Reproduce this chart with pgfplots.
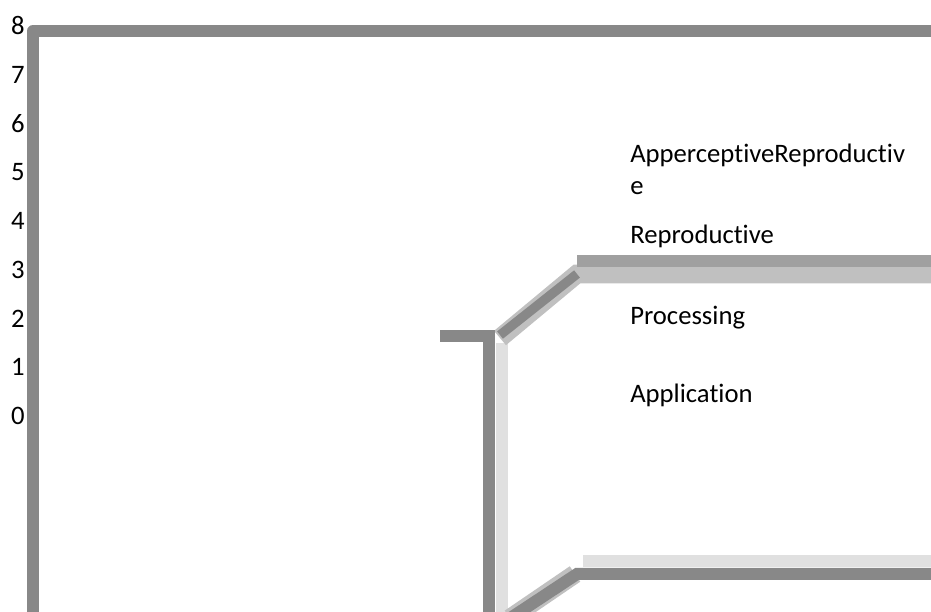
\documentclass[border=0pt]{standalone}
\usepackage{pgfplots}
\pgfplotsset{compat=1.18}
\usepackage{fontspec}
\setmainfont{Carlito}[Ligatures=NoCommon]
\definecolor{gDark}{HTML}{888888}
\definecolor{gMid}{HTML}{A0A0A0}
\definecolor{gLight}{HTML}{C0C0C0}
\definecolor{gPale}{HTML}{E0E0E0}
\newcommand{\lbl}{\fontsize{20}{24}\selectfont}
\begin{document}
\begin{tikzpicture}
\begin{axis}[
  scale only axis,
  width=698.25pt, height=459pt,
  xmin=0, xmax=931,
  ymin=-4.0205, ymax=8.533,
  axis line style={draw=none},
  major tick length=0pt,
  tick style={draw=none},
  xtick=\empty,
  ytick={0,1,2,3,4,5,6,7,8},
  /pgf/number format/assume math mode=true,
  yticklabel style={font=\lbl, anchor=east, inner sep=0pt, xshift=18.75pt},
  clip=true
]
  % outer frame
  \addplot[gDark, line width=9pt, line join=round] coordinates {(33,-4.5) (33,7.897) (950,7.897)};
  % upper group
  \addplot[gPale, line width=9pt] coordinates {(502,-4.5) (502,1.497)};
  \addplot[gLight, line width=14pt] coordinates {(500,1.60) (577,2.913) (950,2.913)};
  \addplot[gMid, line width=9pt] coordinates {(577,3.179) (950,3.179)};
  \addplot[gDark, line width=7pt] coordinates {(500,1.66) (577,2.913)};
  \addplot[gDark, line width=9pt] coordinates {(440,1.641) (489,1.641) (489,-4.5)};
  % lower group
  \addplot[gPale, line width=9pt] coordinates {(583,-2.974) (950,-2.974)};
  \addplot[gLight, line width=14pt] coordinates {(510,-4.15) (575,-3.241)};
  \addplot[gDark, line width=9pt] coordinates {(510,-4.15) (577,-3.241) (950,-3.241)};
  % legend texts
  \node[font=\lbl, anchor=base west, inner sep=0pt] at (axis cs:630,5.190) {ApperceptiveReproductiv};
  \node[font=\lbl, anchor=base west, inner sep=0pt] at (axis cs:630,4.533) {e};
  \node[font=\lbl, anchor=base west, inner sep=0pt] at (axis cs:630,3.528) {Reproductive};
  \node[font=\lbl, anchor=base west, inner sep=0pt] at (axis cs:630,1.867) {Processing};
  \node[font=\lbl, anchor=base west, inner sep=0pt] at (axis cs:630,0.267) {Application};
\end{axis}
\end{tikzpicture}
\end{document}
